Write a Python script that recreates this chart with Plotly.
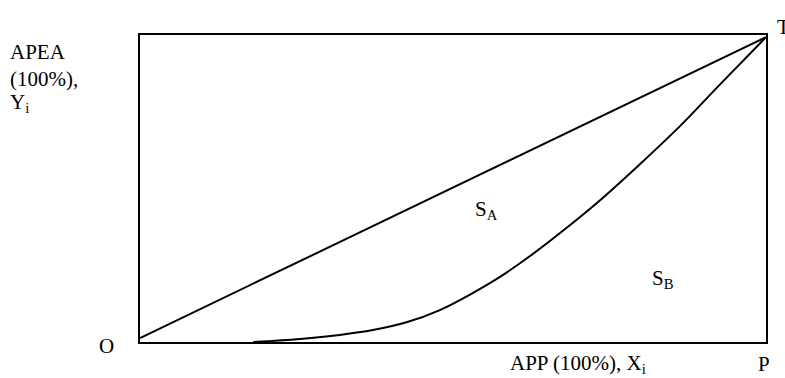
import plotly.graph_objects as go

# Equality line (diagonal O -> T)
diag_x = [0.0, 1.0]
diag_y = [0.013, 0.993]

# Concentration curve
curve_x = [0.181, 0.256, 0.319, 0.372, 0.427, 0.479, 0.532, 0.575, 0.623, 0.671, 0.735, 0.799, 0.863, 0.927, 1.0]
curve_y = [0.0, 0.010, 0.023, 0.039, 0.065, 0.104, 0.160, 0.212, 0.280, 0.355, 0.462, 0.580, 0.704, 0.840, 0.993]

FONT = "Liberation Serif"
FS = 21

fig = go.Figure()
fig.add_trace(go.Scatter(x=diag_x, y=diag_y, mode="lines",
                         line=dict(color="black", width=2), showlegend=False, hoverinfo="skip"))
fig.add_trace(go.Scatter(x=curve_x, y=curve_y, mode="lines",
                         line=dict(color="black", width=2, shape="spline", smoothing=1.0),
                         showlegend=False, hoverinfo="skip"))

def ann(text, x, y, xanchor="center", size=FS):
    fig.add_annotation(text=text, x=x, y=y, xref="paper", yref="paper",
                       xanchor=xanchor, yanchor="middle", showarrow=False,
                       font=dict(family=FONT, size=size, color="black"))

ann("APEA", -0.211, 0.945, "left")
ann("(100%),", -0.211, 0.857, "left")
ann("Y<sub>i</sub>", -0.211, 0.78, "left")
ann("O", -0.053, -0.013)
ann("P", 0.997, -0.072)
ann("T", 1.014, 1.026, "left")
ann("S<sub>A</sub>", 0.554, 0.43)
ann("S<sub>B</sub>", 0.835, 0.205)
ann("APP (100%), X<sub>i</sub>", 0.70, -0.072)

fig.update_xaxes(range=[0, 1], showgrid=False, zeroline=False, showticklabels=False, ticks="",
                 showline=True, linecolor="black", linewidth=2, mirror=True)
fig.update_yaxes(range=[0, 1], showgrid=False, zeroline=False, showticklabels=False, ticks="",
                 showline=True, linecolor="black", linewidth=2, mirror=True)
fig.update_layout(width=785, height=378, margin=dict(l=140, r=19, t=35, b=36),
                  paper_bgcolor="white", plot_bgcolor="white",
                  font=dict(family=FONT, color="black", size=FS))

fig.write_html("out.html", config={"displayModeBar": False},
               post_script="document.body.style.margin='0';document.body.style.overflow='hidden';")
